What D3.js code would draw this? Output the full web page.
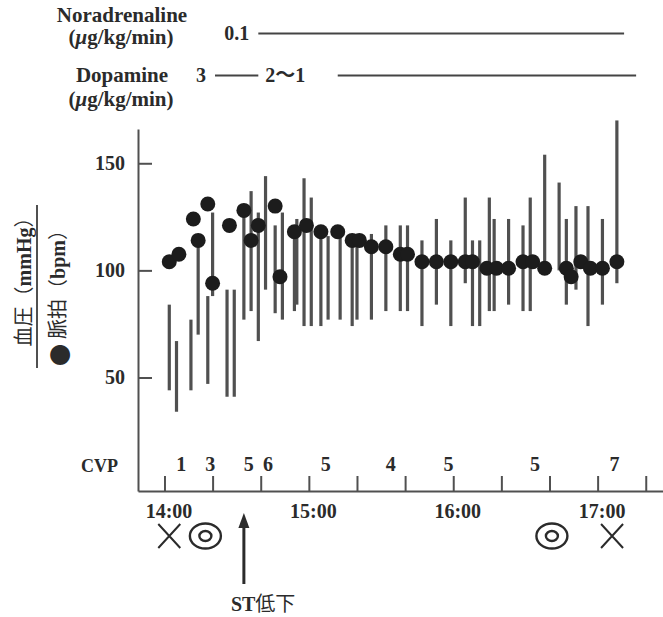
<!DOCTYPE html>
<html>
<head>
<meta charset="utf-8">
<script src="https://cdn.jsdelivr.net/npm/d3@7"></script>
<style>
body { margin: 0; background: #fff; }
text { font-family: "Liberation Serif", "Noto Sans CJK JP", serif; fill: #2b2b2b; }
</style>
</head>
<body>
<script>
// blood pressure bars (top = systolic, bottom = diastolic)
var bpTimes = ["14:02", "14:05", "14:11", "14:14", "14:18", "14:20", "14:26", "14:29", "14:33", "14:36",
    "14:39", "14:42", "14:46", "14:49", "14:54", "14:55", "14:58", "15:01", "15:05", "15:08",
    "15:13", "15:18", "15:20", "15:26", "15:32", "15:38", "15:41", "15:47", "15:53", "15:59",
    "16:05", "16:08", "16:11", "16:15", "16:17", "16:23", "16:29", "16:32", "16:38", "16:44",
    "16:47", "16:51", "16:56", "17:02", "17:08"];
var bpSys = [84, 67, 77, 111, 88, 127, 91, 91, 125, 137,
    127, 144, 121, 127, 115, 124, 143, 134, 119, 116,
    118, 113, 113, 117, 121, 121, 121, 114, 124, 114,
    134, 114, 114, 134, 124, 124, 121, 134, 154, 141,
    124, 130, 130, 124, 170];
var bpDia = [44, 34, 44, 70, 47, 88, 41, 41, 77, 81,
    67, 91, 80, 77, 81, 84, 74, 74, 74, 77,
    77, 74, 77, 77, 81, 81, 81, 74, 84, 74,
    94, 74, 74, 81, 81, 84, 81, 81, 100, 100,
    84, 91, 74, 84, 94];

// pulse (bpm)
var pulseTimes = ["14:02", "14:06", "14:12", "14:14", "14:18", "14:20", "14:27", "14:33", "14:36", "14:39",
    "14:46", "14:48", "14:54", "14:59", "15:05", "15:12", "15:18", "15:21", "15:26", "15:32",
    "15:38", "15:41", "15:47", "15:53", "15:59", "16:05", "16:08", "16:14", "16:18", "16:23",
    "16:29", "16:33", "16:38", "16:47", "16:49", "16:53", "16:57", "17:02", "17:08"];
var pulseValues = [104, 107.5, 124, 114, 131, 94, 121, 128, 114, 121,
    130, 97, 118, 121, 118, 118, 114, 114, 111, 111,
    107.5, 107.5, 104, 104, 104, 104, 104, 101, 101, 101,
    104, 104, 101, 101, 97, 104, 101, 101, 104];

// CVP
var cvpTimes = ["14:07", "14:19", "14:35", "14:43", "15:07", "15:34", "15:58", "16:34", "17:07"];
var cvpValues = ["1", "3", "5", "6", "5", "4", "5", "5", "7"];

// drugs (μg/kg/min)
var noradFrom = ["14:39"], noradTo = ["17:11"], noradDose = ["0.1"];
var dopaFrom = ["14:21", "15:12"], dopaTo = ["14:39", "17:16"], dopaDose = ["3", "2〜1"];

// axis
var yTicks = [50, 100, 150];
var hourLabels = ["14:00", "15:00", "16:00", "17:00"];

// events under the time axis
var markTimes = ["14:02", "14:17", "16:41", "17:06"];
var markTypes = ["x", "o", "o", "x"];
var stTime = "14:33";

var width = 663;
var height = 617;
var ink = "#2b2b2b";
var grey = "#505050";

var parseTime = d3.timeParse("%H:%M");

var svg = d3.select("body")
    .append("svg")
    .attr("width", width)
    .attr("height", height);

var x = d3.scaleTime()
    .domain([parseTime("13:49"), parseTime("17:28")])
    .range([138, 665]);

var y = d3.scaleLinear()
    .domain([-3, 166])
    .range([491, 129]);

// drug rows
function drawDrug(name, nameY, unitY, lineY, from, to, dose) {
    svg.append("text")
        .attr("x", 122).attr("y", nameY)
        .attr("text-anchor", "middle")
        .style("font-size", "21px").style("font-weight", "bold")
        .text(name);
    var unit = svg.append("text")
        .attr("x", 121).attr("y", unitY)
        .attr("text-anchor", "middle")
        .style("font-size", "21px").style("font-weight", "bold");
    unit.append("tspan").text("(");
    unit.append("tspan").style("font-style", "italic").text("μ");
    unit.append("tspan").text("g/kg/min)");

    from.forEach(function(f, i) {
        svg.append("line")
            .attr("x1", x(parseTime(f))).attr("x2", x(parseTime(to[i])))
            .attr("y1", lineY).attr("y2", lineY)
            .attr("stroke", "#444").attr("stroke-width", 2.2);
        svg.append("text")
            .attr("x", i == 0 ? x(parseTime(f)) - 9 : x(parseTime(to[i - 1])) + 7)
            .attr("y", lineY + 6.5)
            .attr("text-anchor", i == 0 ? "end" : "start")
            .style("font-size", "20px").style("font-weight", "bold")
            .text(dose[i]);
    });
}
drawDrug("Noradrenaline", 22, 44, 33.5, noradFrom, noradTo, noradDose);
drawDrug("Dopamine", 82, 106, 75.5, dopaFrom, dopaTo, dopaDose);

// y axis
var yAxis = d3.axisLeft(y)
    .tickValues(yTicks)
    .tickSizeInner(-14)
    .tickSizeOuter(0)
    .tickPadding(13);

var gy = svg.append("g")
    .attr("transform", "translate(138,0)")
    .call(yAxis);

// x axis, ticks every 20 min, labels on the hour
var xAxis = d3.axisBottom(x)
    .tickValues(d3.timeMinute.every(20).range(parseTime("14:00"), parseTime("17:21")))
    .tickSizeInner(-15)
    .tickSizeOuter(0)
    .tickPadding(13)
    .tickFormat(function(d) {
        var s = d3.timeFormat("%H:%M")(d);
        return hourLabels.indexOf(s) >= 0 ? s : "";
    });

var gx = svg.append("g")
    .attr("transform", "translate(0,491)")
    .call(xAxis);

[gx, gy].forEach(function(g) {
    g.selectAll("path, line").attr("stroke", grey).attr("stroke-width", 2);
    g.selectAll("text")
        .attr("fill", ink)
        .style("font-family", "'Liberation Serif', serif")
        .style("font-size", "20px")
        .style("font-weight", "bold");
});
gx.selectAll("text").attr("dx", 4);

// y titles
var title1 = svg.append("text")
    .attr("transform", "translate(24,277) rotate(-90)")
    .attr("text-anchor", "middle")
    .attr("dominant-baseline", "central")
    .style("font-size", "20px");
title1.append("tspan").text("血圧（");
title1.append("tspan").style("font-weight", "bold").text("mmHg");
title1.append("tspan").text("）");

svg.append("line")
    .attr("x1", 37).attr("x2", 37)
    .attr("y1", 205).attr("y2", 368)
    .attr("stroke", grey).attr("stroke-width", 2);

var title2 = svg.append("text")
    .attr("transform", "translate(58,293) rotate(-90)")
    .attr("text-anchor", "middle")
    .attr("dominant-baseline", "central")
    .style("font-size", "20px");
title2.append("tspan").style("font-family", "'Noto Sans CJK JP'").style("font-size", "22px").text("●");
title2.append("tspan").text(" 脈拍（");
title2.append("tspan").style("font-weight", "bold").text("bpm");
title2.append("tspan").text("）");

// BP bars
svg.append("g")
    .selectAll("line")
    .data(bpTimes)
    .enter()
    .append("line")
    .attr("x1", function(d) { return x(parseTime(d)); })
    .attr("x2", function(d) { return x(parseTime(d)); })
    .attr("y1", function(d, i) { return y(bpSys[i]); })
    .attr("y2", function(d, i) { return y(bpDia[i]); })
    .attr("stroke", grey)
    .attr("stroke-width", 3.2);

// pulse dots
svg.append("g")
    .selectAll("circle")
    .data(pulseTimes)
    .enter()
    .append("circle")
    .attr("cx", function(d) { return x(parseTime(d)); })
    .attr("cy", function(d, i) { return y(pulseValues[i]); })
    .attr("r", 7.5)
    .attr("fill", "#1c1c1c");

// CVP row
svg.append("text")
    .attr("x", 118).attr("y", 472)
    .attr("text-anchor", "end")
    .style("font-size", "18px").style("font-weight", "bold")
    .text("CVP");

svg.append("g")
    .selectAll("text")
    .data(cvpTimes)
    .enter()
    .append("text")
    .attr("x", function(d) { return x(parseTime(d)); })
    .attr("y", 471)
    .attr("text-anchor", "middle")
    .style("font-size", "20px").style("font-weight", "bold")
    .text(function(d, i) { return cvpValues[i]; });

// × and ◎ marks
var marks = svg.append("g")
    .selectAll("g")
    .data(markTimes)
    .enter()
    .append("g")
    .attr("transform", function(d) { return "translate(" + x(parseTime(d)) + ",536)"; });

marks.each(function(d, i) {
    var g = d3.select(this);
    if (markTypes[i] == "x") {
        g.append("path")
            .attr("d", "M-11,-12L11,12M11,-12L-11,12")
            .attr("stroke", ink).attr("stroke-width", 2).attr("fill", "none");
    } else {
        g.append("ellipse").attr("rx", 15.5).attr("ry", 12.5)
            .attr("stroke", ink).attr("stroke-width", 2.4).attr("fill", "none");
        g.append("ellipse").attr("rx", 6).attr("ry", 5)
            .attr("stroke", ink).attr("stroke-width", 2.4).attr("fill", "none");
    }
});

// ST arrow
var ax = x(parseTime(stTime));
svg.append("line")
    .attr("x1", ax).attr("x2", ax)
    .attr("y1", 584).attr("y2", 524)
    .attr("stroke", ink).attr("stroke-width", 3);
svg.append("path")
    .attr("d", "M" + ax + ",513L" + (ax - 5.5) + ",528L" + (ax + 5.5) + ",528Z")
    .attr("fill", ink);

var st = svg.append("text")
    .attr("x", ax - 13).attr("y", 611)
    .style("font-size", "20px");
st.append("tspan").style("font-weight", "bold").text("ST");
st.append("tspan").text("低下");
</script>
</body>
</html>
